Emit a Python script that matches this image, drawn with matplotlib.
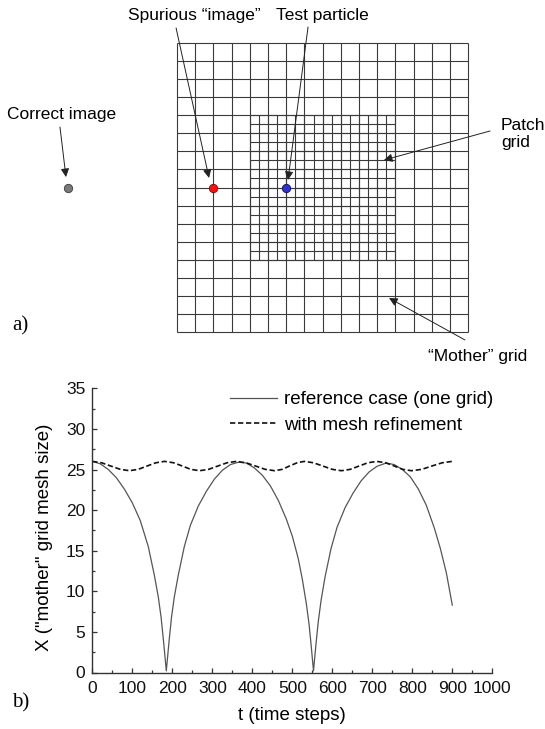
import numpy as np
import matplotlib
matplotlib.use("Agg")
import matplotlib.pyplot as plt

plt.rcParams['font.family'] = ['Liberation Sans', 'DejaVu Sans']

# ---- panel a) grid schematic ----
mother_cells = 16          # mother grid is 16 x 16 cells
patch_lo, patch_hi = 4, 12 # patch covers mother cells 4..12
refine = 2                 # patch refinement ratio
particle = (6, 8)          # test particle
spurious = (2, 8)          # spurious image (mirror about patch edge)
correct = (-6, 8)          # correct image (mirror about domain edge)

# ---- panel b) data ----
t_ref = [0, 20, 40, 60, 80, 100, 120, 140, 155, 165, 172, 178, 185,
         192, 198, 205, 215, 230, 245, 265, 285, 305, 325, 345, 365,
         385, 405, 425, 445, 465, 485, 500, 515, 525, 535, 542, 547, 553,
         559, 565, 572, 582, 597, 612, 632, 652, 672, 692, 712, 735,
         755, 775, 795, 815, 835, 855, 870, 885, 900]
x_ref = [26.0, 25.7, 25.0, 24.0, 22.6, 20.9, 18.7, 15.5, 12.0, 9.3, 6.8, 3.9, 0.2,
         3.9, 6.8, 9.3, 12.0, 15.5, 18.1, 20.5, 22.3, 23.8, 24.9, 25.6, 25.9,
         25.8, 25.2, 24.3, 23.0, 21.2, 18.9, 16.8, 14.0, 11.5, 8.5, 5.9, 3.4, 0.2,
         3.4, 6.3, 8.9, 11.8, 15.3, 17.9, 20.3, 22.1, 23.6, 24.7, 25.4, 25.8,
         25.6, 25.0, 24.1, 22.6, 20.6, 17.8, 15.3, 12.3, 8.3]

t_mr = [0, 23, 46, 70, 93, 115, 137, 159, 181, 203, 225, 246, 268, 291, 314, 337,
        360, 384, 408, 432, 456, 475, 493, 512, 530, 553, 576, 600, 623, 645, 667,
        689, 711, 733, 755, 776, 798, 824, 849, 875, 900]
x_mr = [26.0, 25.83, 25.43, 25.02, 24.85, 25.02, 25.43, 25.83, 26.0, 25.83, 25.43,
        25.02, 24.85, 25.02, 25.43, 25.83, 26.0, 25.83, 25.43, 25.02, 24.85, 25.02,
        25.43, 25.83, 26.0, 25.83, 25.43, 25.02, 24.85, 25.02, 25.43, 25.83, 26.0,
        25.83, 25.43, 25.02, 24.85, 25.02, 25.43, 25.83, 26.0]

fig = plt.figure(figsize=(5.45, 7.29), dpi=100)

# top panel in grid units
ax_a = fig.add_axes([0, 0.5, 1, 0.5])
ax_a.set_xlim(-177 / 18.2, (545 - 177) / 18.2)
ax_a.set_ylim(-(364.5 - 332) / 18.06, 332 / 18.06)
ax_a.axis('off')

grid_col = '#3a3a3a'
edges = np.arange(mother_cells + 1)
ax_a.vlines(edges, 0, mother_cells, color=grid_col, lw=0.8)
ax_a.hlines(edges, 0, mother_cells, color=grid_col, lw=0.8)
fine = np.arange(patch_lo, patch_hi + 1e-9, 1.0 / refine)
ax_a.vlines(fine, patch_lo, patch_hi, color=grid_col, lw=0.8)
ax_a.hlines(fine, patch_lo, patch_hi, color=grid_col, lw=0.8)

ax_a.plot(*correct, 'o', ms=6, color='#7a7a7a', mec='#3a3a3a', mew=0.6, zorder=5)
ax_a.plot(*spurious, 'o', ms=6, color='#ff1010', mec='#880000', mew=0.6, zorder=5)
ax_a.plot(*particle, 'o', ms=6, color='#3030d0', mec='#101060', mew=0.6, zorder=5)

arrow = dict(arrowstyle='-|>,head_length=0.5,head_width=0.25', color='#222222',
             lw=0.7, mutation_scale=10, shrinkA=0, shrinkB=0)
lab_fs = 12.5

ax_a.text(-6.37, 12.05, 'Correct image', ha='center', va='center', fontsize=lab_fs)
ax_a.annotate('', xy=(-6.10, 8.58), xytext=(-6.43, 11.35), arrowprops=arrow)

ax_a.text(0.93, 17.55, 'Spurious \u201cimage\u201d', ha='center', va='center', fontsize=lab_fs)
ax_a.annotate('', xy=(1.76, 8.53), xytext=(-0.05, 16.83), arrowprops=arrow)

ax_a.text(7.97, 17.55, 'Test particle', ha='center', va='center', fontsize=lab_fs)
ax_a.annotate('', xy=(6.10, 8.42), xytext=(7.20, 16.89), arrowprops=arrow)

ax_a.text(17.80, 10.95, 'Patch\ngrid', ha='left', va='center', fontsize=lab_fs,
          linespacing=1.2)
ax_a.annotate('', xy=(11.37, 9.52), xytext=(17.2, 11.13), arrowprops=arrow)

ax_a.text(16.54, -1.35, '\u201cMother\u201d grid', ha='center', va='center', fontsize=lab_fs)
ax_a.annotate('', xy=(11.65, 1.88), xytext=(15.82, -0.44), arrowprops=arrow)

fig.text(12 / 545, 1 - 326 / 729, 'a)', family='Liberation Serif', fontsize=15,
         va='center', ha='left')

# bottom panel
ax = fig.add_axes([92.3 / 545, (729 - 672.5) / 729, 400 / 545, 284.2 / 729])
ax.plot(t_ref, x_ref, color='#555555', lw=0.9, label='reference case (one grid)')
ax.plot(t_mr, x_mr, color='#111111', lw=1.2, dashes=(3.2, 1.6),
        label='with mesh refinement')

ax.set_xlim(0, 1000)
ax.set_ylim(0, 35)
ax.set_xticks(np.arange(0, 1001, 100))
ax.set_xticks(np.arange(0, 1001, 50), minor=True)
ax.set_yticks(np.arange(0, 36, 5))
ax.set_yticks(np.arange(0, 36, 2.5), minor=True)
ax.tick_params(which='both', direction='in', labelsize=12.5, colors='#333333',
               labelcolor='#111111')
ax.tick_params(axis='x', pad=6)
ax.tick_params(axis='y', pad=5)
ax.tick_params(which='major', length=3.6, width=0.9)
ax.tick_params(which='minor', length=2.2, width=0.9)
for s in ['top', 'right']:
    ax.spines[s].set_visible(False)
for s in ['left', 'bottom']:
    ax.spines[s].set_color('#333333')
    ax.spines[s].set_linewidth(1.0)

ax.set_xlabel('t (time steps)', fontsize=13.5, labelpad=8)
ax.set_ylabel('X ("mother" grid mesh size)', fontsize=13.5)
ax.yaxis.set_label_coords(-0.097, 0.477)

ax.legend(loc='upper left', bbox_to_anchor=(0.344, 0.99), frameon=False,
          fontsize=13.5, handlelength=2.5, handletextpad=0.4, borderpad=0,
          borderaxespad=0, labelspacing=0.45)

fig.text(12 / 545, 1 - 703 / 729, 'b)', family='Liberation Serif', fontsize=15,
         va='center', ha='left')

fig.savefig('out.png', dpi=100)
